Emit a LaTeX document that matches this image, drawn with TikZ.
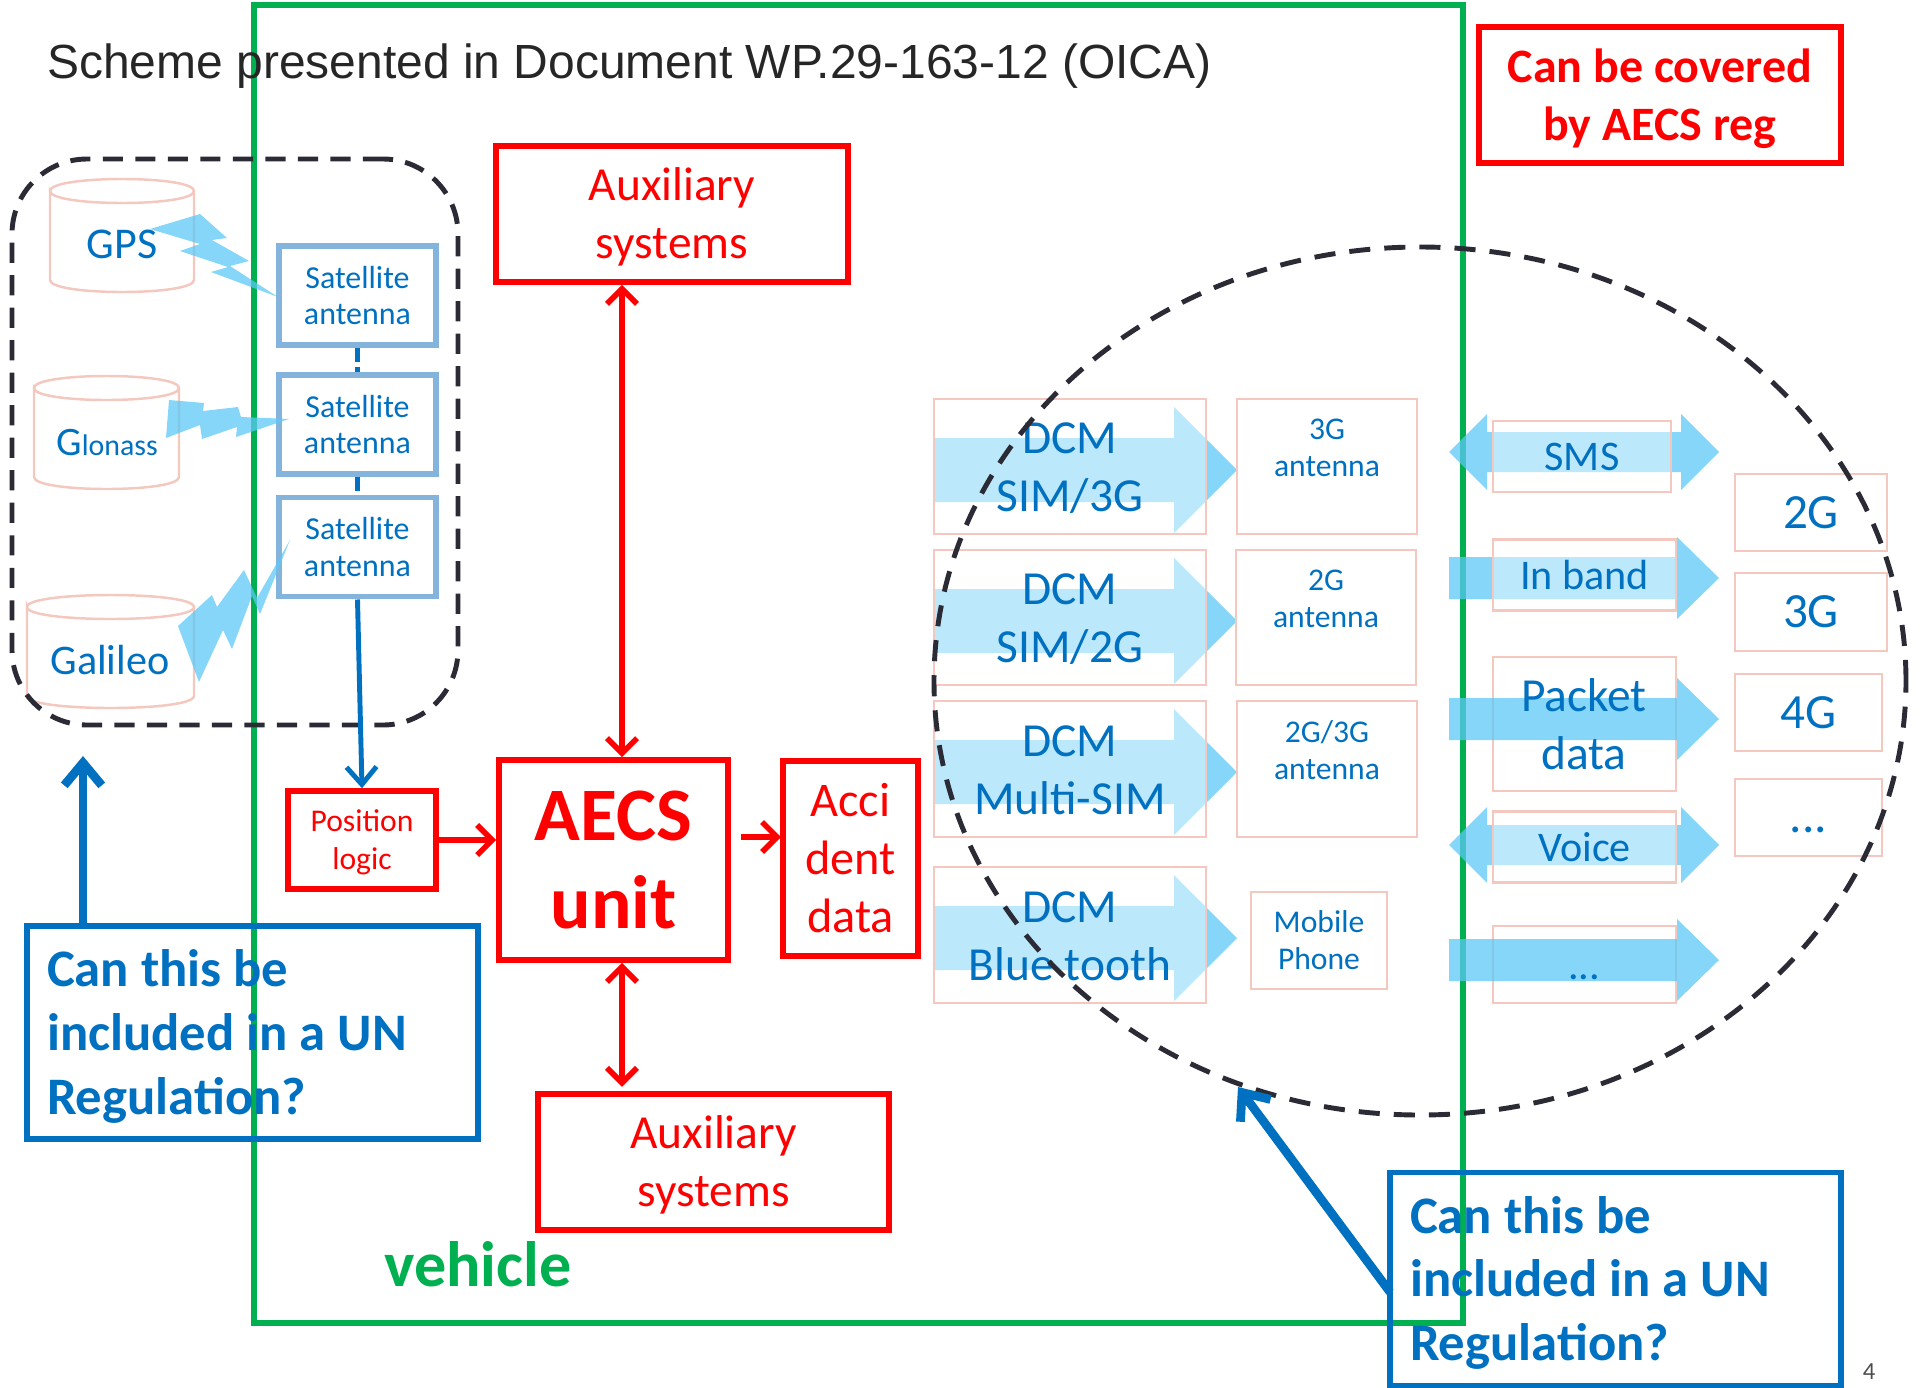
\documentclass[tikz,border=0pt]{standalone}
\usepackage{fontspec}
\setmainfont{Carlito}
\newfontfamily\titlefont{Liberation Sans}
\usetikzlibrary{arrows.meta,shapes.geometric}

\definecolor{auxred}{HTML}{FF0000}
\definecolor{linkblue}{HTML}{0070C0}
\definecolor{vehgreen}{HTML}{00B050}
\definecolor{boxpink}{HTML}{F4C7BF}
\definecolor{satframe}{HTML}{84B3DC}
\definecolor{wavefill}{HTML}{5CC8F5}
\definecolor{dashgray}{HTML}{2B2B36}

\tikzset{
  size/.style 2 args={minimum width=#1*0.02cm, minimum height=#2*0.02cm},
  nudge/.style={execute at begin node={\rule{0pt}{#1}}},
  redbox/.style={draw=auxred, line width=3.2pt, text=auxred, align=flush center, inner sep=0pt},
  pinkbox/.style={draw=boxpink, line width=1.6pt, text=linkblue, align=flush center, inner sep=0pt},
  thinbox/.style={pinkbox, fill=white, fill opacity=0.45, text opacity=1, draw opacity=1},
  satbox/.style={draw=satframe, line width=3.4pt, text=linkblue, align=center, inner sep=0pt,
    size={157}{99}, font=\fontsize{18.2}{21}\selectfont},
  disc/.style={draw=boxpink, line width=1.4pt},
  bluebox/.style={draw=linkblue, line width=3.2pt, text=linkblue, align=flush left, inner xsep=0.4cm,
    inner ysep=0pt, nudge=0.85em, text width=8.22cm, size={451}{213},
    font=\fontsize{30}{36.3}\selectfont\bfseries},
  wave/.style={fill=wavefill, fill opacity=0.75},
  redarrow/.style={draw=auxred, line width=3.2pt, {Straight Barb[length=0.3cm,width=0.6cm]}-{Straight Barb[length=0.3cm,width=0.6cm]}},
  redright/.style={draw=auxred, line width=3.2pt, -{Straight Barb[length=0.3cm,width=0.6cm]}},
  bluearrow/.style={draw=linkblue, line width=5pt, -{Straight Barb[length=0.45cm,width=0.75cm]}},
  big/.style={font=\fontsize{27}{33}\selectfont},
  mid/.style={font=\fontsize{24}{28}\selectfont},
  small/.style={font=\fontsize{18}{21}\selectfont},
}

\begin{document}
\begin{tikzpicture}[x=0.02cm, y=-0.02cm]
\useasboundingbox (0,0) rectangle (1921,1387);

\node[draw=vehgreen, line width=3.4pt, size={1209}{1318}, inner sep=0pt] (vehicle) at (858.5,664) {};
\node[anchor=west, inner sep=0pt, text=black!85] (title) at (47,66) {\titlefont\fontsize{27.3}{30}\selectfont Scheme presented in Document WP.29-163-12 (OICA)};
\node[text=vehgreen, inner sep=0pt, font=\fontsize{36.5}{40}\selectfont\bfseries] (vehlabel) at (478,1264) {vehicle};
\node[redbox, size={362}{136}, nudge=0.85em, text width=7cm, font=\fontsize{27.3}{33}\selectfont\bfseries] (reg) at (1660,95) {Can be covered\\by AECS reg};

% satellites
\draw[disc] (50,191) .. controls (50,175) and (194,175) .. (194,191) .. controls (194,207) and (50,207) .. (50,191) -- (50,280) .. controls (50,296) and (194,296) .. (194,280) -- (194,191);
\draw[disc] (34,388) .. controls (34,372) and (179,372) .. (179,388) .. controls (179,404) and (34,404) .. (34,388) -- (34,477) .. controls (34,493) and (179,493) .. (179,477) -- (179,388);
\draw[disc] (27,607) .. controls (27,591) and (194,591) .. (194,607) .. controls (194,623) and (27,623) .. (27,607) -- (27,696) .. controls (27,712) and (194,712) .. (194,696) -- (194,607);
\node[text=linkblue, inner sep=0pt, font=\fontsize{25}{30}\selectfont] (gpstext) at (122,244) {GPS};
\node[text=linkblue, inner sep=0pt] (glonasstext) at (107,443) {\fontsize{23}{30}\selectfont G\fontsize{17}{30}\selectfont lonass};
\node[text=linkblue, inner sep=0pt, font=\fontsize{24}{30}\selectfont] (galileotext) at (110,660) {Galileo};

\node[satbox] (sat1) at (357.5,295.5) {Satellite\\antenna};
\node[satbox] (sat2) at (357.5,424.5) {Satellite\\antenna};
\node[satbox] (sat3) at (357.5,547) {Satellite\\antenna};

\fill[wave] (150,229) -- (200,214) -- (227,238) -- (212,240) -- (249,261) -- (230,266) -- (278,297) -- (211,272) -- (228,267) -- (180,251) -- (200,244) -- cycle;
\fill[wave] (169,400) -- (204,403) -- (203,411) -- (238,407) -- (241,417) -- (289,419) -- (236,437) -- (237,427) -- (202,439) -- (200,425) -- (166,438) -- cycle;
\fill[wave] (178,626) -- (212,595) -- (217,607) -- (244,570) -- (257,598) -- (290,540) -- (260,614) -- (252,596) -- (232,649) -- (223,630) -- (199,682) -- cycle;

\node[draw=dashgray, line width=2.8pt, dash pattern=on 11.5pt off 7pt, rounded corners=1.5cm, size={446}{566}, inner sep=0pt] (sats) at (235,442) {};

% red part
\node[redbox, size={352}{136}, nudge=0.8em, text width=6.8cm, font=\fontsize{27}{33}\selectfont] (auxtop) at (672,214) {Auxiliary\\systems};
\node[redbox, size={351}{136}, nudge=0.8em, text width=6.8cm, font=\fontsize{27}{33}\selectfont] (auxbottom) at (713.5,1162) {Auxiliary\\systems};
\node[redbox, size={148}{98}, nudge=0.85em, text width=2.8cm, font=\fontsize{18}{21.5}\selectfont] (position) at (362,840) {Position\\logic};
\node[redbox, size={229}{200}, font=\fontsize{43}{50}\selectfont\bfseries] (aecs) at (613.5,860) {AECS\\unit};
\node[redbox, size={135}{195}, font=\fontsize{27.5}{33}\selectfont] (accident) at (850.5,858.5) {Acci\\dent\\data};

\coordinate (busx) at (622,0);
\coordinate (accin) at (781,837);
\draw[redarrow] (auxtop.south -| busx) -- (aecs.north -| busx);
\draw[redarrow, shorten >=2.5pt] (aecs.south -| busx) -- (auxbottom.north -| busx);
\draw[redright] (position.east) -- (position.east -| aecs.west);
\draw[redright, shorten <=6pt] (aecs.east |- accin) -- (accin);

\draw[draw=linkblue, line width=3.4pt, dash pattern=on 8pt off 3pt] (sat1.south) -- (sat2.north);
\draw[draw=linkblue, line width=3.4pt, dash pattern=on 8pt off 3pt] (sat2.south) -- (sat3.north);
\draw[draw=linkblue, line width=2.8pt, -{Straight Barb[length=0.35cm,width=0.6cm]}] (sat3.south) -- (position.north);

% links
\fill[wave] (934,438) -- ++(240,0) -- ++(0,-31) -- ++(63,63) -- ++(-63,63) -- ++(0,-31) -- ++(-240,0) -- cycle;
\fill[wave] (934,589) -- ++(240,0) -- ++(0,-31) -- ++(63,63) -- ++(-63,63) -- ++(0,-31) -- ++(-240,0) -- cycle;
\fill[wave] (934,740) -- ++(240,0) -- ++(0,-31) -- ++(63,63) -- ++(-63,63) -- ++(0,-31) -- ++(-240,0) -- cycle;
\fill[wave] (934,906) -- ++(240,0) -- ++(0,-31) -- ++(63,63) -- ++(-63,63) -- ++(0,-31) -- ++(-240,0) -- cycle;

\fill[wave] (1449,452) -- ++(38,-38) -- ++(0,18) -- ++(194,0) -- ++(0,-18) -- ++(38,38) -- ++(-38,38) -- ++(0,-18) -- ++(-194,0) -- ++(0,18) -- cycle;
\fill[wave] (1449,557) -- ++(228,0) -- ++(0,-20) -- ++(42,41) -- ++(-42,41) -- ++(0,-20) -- ++(-228,0) -- cycle;
\fill[wave] (1449,845) -- ++(38,-38) -- ++(0,18) -- ++(194,0) -- ++(0,-18) -- ++(38,38) -- ++(-38,38) -- ++(0,-18) -- ++(-194,0) -- ++(0,18) -- cycle;

\node[thinbox, size={272}{135}, big, nudge=0.72em, text width=5.3cm] (dcm1) at (1070,466.5) {DCM\\SIM/3G};
\node[thinbox, size={272}{135}, big, nudge=0.72em, text width=5.3cm] (dcm2) at (1070,617.5) {DCM\\SIM/2G};
\node[thinbox, size={272}{136}, big, nudge=0.72em, text width=5.3cm] (dcm3) at (1070,769) {DCM\\Multi-SIM};
\node[thinbox, size={272}{136}, big, nudge=0.72em, text width=5.3cm] (dcm4) at (1070,935) {DCM\\Blue tooth};

\node[pinkbox, size={180}{135}] (ant1) at (1327,466.5) {};
\node[pinkbox, size={180}{135}] (ant2) at (1326,617.5) {};
\node[pinkbox, size={180}{136}] (ant3) at (1327,769) {};
\node[pinkbox, size={136}{97}, small] (phone) at (1319,940.5) {Mobile\\Phone};
\node[text=linkblue, small, align=center, inner sep=0pt] (ant1text) at (1327,448) {3G\\antenna};
\node[text=linkblue, small, align=center, inner sep=0pt] (ant2text) at (1326,599) {2G\\antenna};
\node[text=linkblue, small, align=center, inner sep=0pt] (ant3text) at (1327,750) {2G/3G\\antenna};

\node[thinbox, size={178}{71}, mid] (sms) at (1582,456.5) {SMS};
\node[thinbox, size={183}{71}, mid] (inband) at (1584.5,575) {In band};
\node[thinbox, size={183}{71}, mid] (voice) at (1584.5,847) {Voice};
\node[pinkbox, size={183}{77}] (etclink) at (1584.5,964.5) {};

\node[pinkbox, size={183}{134}] (packet) at (1584.5,724) {};
\fill[wave] (1449,698) -- ++(228,0) -- ++(0,-20) -- ++(42,41) -- ++(-42,41) -- ++(0,-20) -- ++(-228,0) -- cycle;
\fill[wave] (1449,939) -- ++(228,0) -- ++(0,-20) -- ++(42,41) -- ++(-42,41) -- ++(0,-20) -- ++(-228,0) -- cycle;
\node[text=linkblue, font=\fontsize{27}{33}\selectfont, align=center, inner sep=0pt] (packettext) at (1584,724) {Packet\\data};
\node[text=linkblue, mid, inner sep=0pt] (etctext) at (1584,977) {...};

\node[pinkbox, size={152}{77}, font=\fontsize{28}{33}\selectfont] (net2g) at (1811,512.5) {2G};
\node[pinkbox, size={152}{78}, font=\fontsize{28}{33}\selectfont] (net3g) at (1811,612) {3G};
\node[pinkbox, size={147}{77}, font=\fontsize{28}{33}\selectfont] (net4g) at (1808.5,712.5) {4G};
\node[pinkbox, size={147}{77}, font=\fontsize{28}{33}\selectfont, text height=1.7em, text depth=0pt] (netetc) at (1808.5,817.5) {...};

\node[ellipse, draw=dashgray, line width=2.8pt, dash pattern=on 12pt off 8pt, size={972}{868}, inner sep=0pt] (cell) at (1420,681) {};

% questions
\node[bluebox] (askleft) at (252.5,1032.5) {Can this be\\included in a UN\\Regulation?};
\node[bluebox] (askright) at (1615.5,1279) {Can this be\\included in a UN\\Regulation?};
\coordinate (satsin) at (83,756);
\coordinate (cellin) at (1238,1087);
\coordinate (askout) at (1390,1292);
\draw[bluearrow] (askleft.north -| satsin) -- (satsin);
\draw[bluearrow] (askout) -- (cellin);

\node[text=black!70, inner sep=0pt, font=\fontsize{14}{16}\selectfont] (pagenum) at (1869,1372) {4};
\end{tikzpicture}
\end{document}
